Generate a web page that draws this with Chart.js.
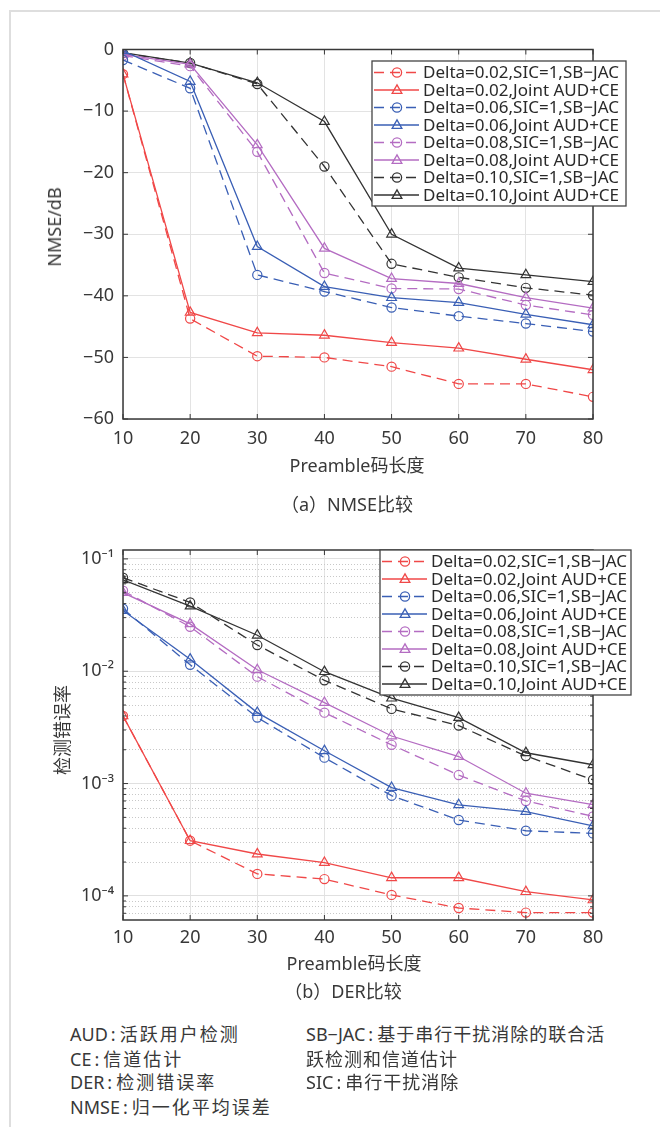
<!DOCTYPE html>
<html>
<head>
<meta charset="utf-8">
<script src="https://cdn.jsdelivr.net/npm/chart.js@4/dist/chart.umd.min.js"></script>
<style>
  body { margin: 0; background: #fff; width: 660px; height: 1127px; position: relative; overflow: hidden;
         font-family: "Noto Sans", "Noto Sans CJK SC", sans-serif; color: #383838; }
  #frame { position: absolute; left: 9px; top: 10px; right: -5px; bottom: -5px;
           border-top: 2px solid #dedede; border-left: 2px solid #dedede; }
  canvas { position: absolute; left: 0; }
  .t { position: absolute; font-size: 18px; white-space: nowrap; transform: translate(-50%, -50%); }
  .rot { transform: translate(-50%, -50%) rotate(-90deg); }
  .cjk { font-family: "Noto Sans CJK SC", sans-serif; }
  .note { position: absolute; font-size: 18px; white-space: nowrap; transform: translateY(-50%); }
  .note .c { margin: 0 4px 0 3px; }
  .wide { letter-spacing: 2px; }
  .mid { letter-spacing: 1px; }
</style>
</head>
<body>
<div id="frame"></div>
<canvas id="nmseChart" width="660" height="480" style="top:0"></canvas>
<canvas id="derChart" width="660" height="480" style="top:500px"></canvas>

<div class="t rot" style="left:54px; top:227px">NMSE/dB</div>
<div class="t" style="left:357px; top:464px">Preamble<span class="cjk">码长度</span></div>
<div class="t" style="left:347px; top:503px"><span class="cjk">（</span>a<span class="cjk">）</span>NMSE<span class="cjk">比较</span></div>

<div class="t rot cjk" style="left:61px; top:730px">检测错误率</div>
<div class="t" style="left:354px; top:962px">Preamble<span class="cjk">码长度</span></div>
<div class="t" style="left:343px; top:990px"><span class="cjk">（</span>b<span class="cjk">）</span>DER<span class="cjk">比较</span></div>

<div class="note" style="left:70px; top:1033px">AUD<span class="c">:</span><span class="cjk wide">活跃用户检测</span></div>
<div class="note" style="left:70px; top:1058px">CE<span class="c">:</span><span class="cjk wide">信道估计</span></div>
<div class="note" style="left:70px; top:1081px">DER<span class="c">:</span><span class="cjk wide">检测错误率</span></div>
<div class="note" style="left:70px; top:1106px">NMSE<span class="c">:</span><span class="cjk wide">归一化平均误差</span></div>
<div class="note" style="left:306px; top:1033px">SB−JAC<span class="c">:</span><span class="cjk mid">基于串行干扰消除的联合活</span></div>
<div class="note cjk mid" style="left:306px; top:1058px">跃检测和信道估计</div>
<div class="note" style="left:306px; top:1081px">SIC<span class="c">:</span><span class="cjk mid">串行干扰消除</span></div>

<script>
// 横轴：Preamble 码长度
const preambleLengths = [10, 20, 30, 40, 50, 60, 70, 80];

// (a) NMSE / dB
const nmseSic002   = [-4.0, -43.7, -49.8, -50.0, -51.5, -54.3, -54.3, -56.4];
const nmseJoint002 = [-4.0, -42.7, -46.0, -46.4, -47.6, -48.5, -50.3, -52.0];
const nmseSic006   = [-1.7, -6.3, -36.6, -39.3, -41.9, -43.3, -44.5, -45.8];
const nmseJoint006 = [-0.2, -5.2, -32.0, -38.5, -40.3, -41.1, -43.0, -44.7];
const nmseSic008   = [-1.0, -2.7, -16.6, -36.3, -38.8, -38.9, -41.5, -43.1];
const nmseJoint008 = [-0.8, -2.4, -15.5, -32.3, -37.2, -38.0, -40.3, -42.0];
const nmseSic010   = [-0.6, -2.2, -5.6, -19.0, -34.8, -37.0, -38.7, -39.9];
const nmseJoint010 = [-0.5, -2.2, -5.4, -11.7, -30.0, -35.5, -36.6, -37.7];

// (b) DER 检测错误率
const derSic002   = [4.0e-3, 3.1e-4, 1.57e-4, 1.41e-4, 1.02e-4, 7.8e-5, 7.1e-5, 7.1e-5];
const derJoint002 = [4.0e-3, 3.1e-4, 2.36e-4, 1.98e-4, 1.45e-4, 1.45e-4, 1.09e-4, 9.2e-5];
const derSic006   = [3.6e-2, 1.14e-2, 3.87e-3, 1.70e-3, 7.8e-4, 4.74e-4, 3.8e-4, 3.6e-4];
const derJoint006 = [3.47e-2, 1.28e-2, 4.28e-3, 1.96e-3, 9.2e-4, 6.46e-4, 5.62e-4, 4.2e-4];
const derSic008   = [5.2e-2, 2.49e-2, 8.95e-3, 4.28e-3, 2.21e-3, 1.19e-3, 7.0e-4, 5.1e-4];
const derJoint008 = [5.0e-2, 2.64e-2, 1.03e-2, 5.26e-3, 2.65e-3, 1.74e-3, 8.2e-4, 6.5e-4];
const derSic010   = [6.8e-2, 4.1e-2, 1.71e-2, 8.3e-3, 4.62e-3, 3.28e-3, 1.76e-3, 1.08e-3];
const derJoint010 = [6.5e-2, 3.8e-2, 2.09e-2, 9.9e-3, 5.75e-3, 3.86e-3, 1.88e-3, 1.47e-3];

// 刻度
const xTicks = [10, 20, 30, 40, 50, 60, 70, 80];
const nmseTicks = [0, -10, -20, -30, -40, -50, -60];
const derDecades = [1e-4, 1e-3, 1e-2, 1e-1];
const derDecadeLabels = ['10⁻⁴', '10⁻³', '10⁻²', '10⁻¹'];

const seriesLabels = [
  'Delta=0.02,SIC=1,SB−JAC', 'Delta=0.02,Joint AUD+CE',
  'Delta=0.06,SIC=1,SB−JAC', 'Delta=0.06,Joint AUD+CE',
  'Delta=0.08,SIC=1,SB−JAC', 'Delta=0.08,Joint AUD+CE',
  'Delta=0.10,SIC=1,SB−JAC', 'Delta=0.10,Joint AUD+CE'
];
const seriesColors = ['#f04848', '#f04848', '#3a5fb5', '#3a5fb5', '#b46cc2', '#b46cc2', '#333333', '#333333'];

function buildDatasets(seriesList) {
  return seriesList.map((vals, i) => {
    const dashed = i % 2 === 0;
    return {
      label: seriesLabels[i],
      data: preambleLengths.map((x, k) => ({ x, y: vals[k] })),
      borderColor: seriesColors[i],
      borderWidth: 1.3,
      borderDash: dashed ? [10, 6] : [],
      pointStyle: dashed ? 'circle' : 'triangle',
      pointRadius: dashed ? 4.6 : 5.6,
      pointHoverRadius: dashed ? 4.6 : 5.6,
      pointBorderColor: seriesColors[i],
      pointBorderWidth: 1.2,
      pointBackgroundColor: 'rgba(0,0,0,0)',
      fill: false,
      tension: 0
    };
  });
}

function drawMarker(ctx, style, x, y, r) {
  ctx.beginPath();
  if (style === 'circle') {
    ctx.arc(x, y, r, 0, Math.PI * 2);
  } else {
    for (let k = 0; k < 3; k++) {
      const a = k * 2 * Math.PI / 3;
      const px = x + Math.sin(a) * r, py = y - Math.cos(a) * r;
      k === 0 ? ctx.moveTo(px, py) : ctx.lineTo(px, py);
    }
    ctx.closePath();
  }
  ctx.stroke();
}

// 坐标框、内向刻度线和图例
const boxPlugin = {
  id: 'box',
  afterDraw(chart, args, opts) {
    const { ctx, chartArea: a, scales } = chart;
    ctx.save();
    ctx.strokeStyle = '#383838';
    ctx.lineWidth = 1;
    ctx.beginPath();
    scales.x.ticks.forEach(t => {
      const px = scales.x.getPixelForValue(t.value);
      ctx.moveTo(px, a.bottom); ctx.lineTo(px, a.bottom - 5);
      ctx.moveTo(px, a.top); ctx.lineTo(px, a.top + 5);
    });
    scales.y.ticks.forEach(t => {
      const py = scales.y.getPixelForValue(t.value);
      const len = opts.isMajor(t.value) ? 5 : 3;
      ctx.moveTo(a.left, py); ctx.lineTo(a.left + len, py);
      ctx.moveTo(a.right, py); ctx.lineTo(a.right - len, py);
    });
    ctx.stroke();
    ctx.lineWidth = 1.5;
    ctx.strokeRect(a.left, a.top, a.right - a.left, a.bottom - a.top);

    // 图例
    const lx = a.right - opts.legendFromRight, ly = a.top + opts.legendTop;
    const lw = opts.legendW, lh = opts.legendH;
    ctx.fillStyle = '#fff';
    ctx.fillRect(lx, ly, lw, lh);
    ctx.lineWidth = 1.3;
    ctx.strokeStyle = '#444';
    ctx.strokeRect(lx, ly, lw, lh);
    ctx.font = '17px "Noto Sans"';
    ctx.textBaseline = 'middle';
    chart.data.datasets.forEach((ds, i) => {
      const y = ly + 11.5 + i * 17.5;
      ctx.strokeStyle = ds.borderColor;
      ctx.lineWidth = 1.3;
      ctx.setLineDash(ds.borderDash);
      ctx.beginPath();
      ctx.moveTo(lx + 2, y); ctx.lineTo(lx + 47, y);
      ctx.stroke();
      ctx.setLineDash([]);
      drawMarker(ctx, ds.pointStyle, lx + 25, y + (ds.pointStyle === 'triangle' ? 0.5 : 0), ds.pointStyle === 'circle' ? 4.6 : 5.6);
      ctx.fillStyle = '#2a2a2a';
      ctx.fillText(ds.label, lx + 51, y + 1);
    });
    ctx.restore();
  }
};

const tickFont = { family: 'Noto Sans', size: 18 };

// (a) NMSE 图
new Chart(document.getElementById('nmseChart'), {
  type: 'line',
  data: { datasets: buildDatasets([nmseSic002, nmseJoint002, nmseSic006, nmseJoint006,
                                   nmseSic008, nmseJoint008, nmseSic010, nmseJoint010]) },
  options: {
    responsive: false,
    animation: false,
    devicePixelRatio: 1,
    layout: { padding: { left: 0, right: 67, top: 49.5, bottom: 0 } },
    plugins: {
      legend: { display: false },
      tooltip: { enabled: false },
      box: { legendFromRight: 221, legendTop: 11.5, legendW: 254, legendH: 145, isMajor: () => true }
    },
    scales: {
      x: {
        type: 'linear', min: 10, max: 80,
        afterBuildTicks: s => { s.ticks = xTicks.map(v => ({ value: v })); },
        afterFit: s => { s.height = 61; },
        ticks: { font: tickFont, color: '#383838', padding: 9, autoSkip: false, maxRotation: 0 },
        grid: { color: '#e3e3e3', drawTicks: false },
        border: { display: false }
      },
      y: {
        type: 'linear', min: -60, max: 0,
        afterBuildTicks: s => { s.ticks = nmseTicks.map(v => ({ value: v })); },
        afterFit: s => { s.width = 123; },
        ticks: { font: tickFont, color: '#383838', padding: 9, callback: v => String(v).replace('-', '−') },
        grid: { color: '#e3e3e3', drawTicks: false },
        border: { display: false }
      }
    }
  },
  plugins: [boxPlugin]
});

// (b) DER 图
const isDecade = v => derDecades.some(d => Math.abs(v / d - 1) < 1e-6);
const derTickValues = [];
[1e-5, 1e-4, 1e-3, 1e-2].forEach(d => {
  for (let m = 1; m <= 9; m++) derTickValues.push(m * d);
});
derTickValues.push(1e-1);

new Chart(document.getElementById('derChart'), {
  type: 'line',
  data: { datasets: buildDatasets([derSic002, derJoint002, derSic006, derJoint006,
                                   derSic008, derJoint008, derSic010, derJoint010]) },
  options: {
    responsive: false,
    animation: false,
    devicePixelRatio: 1,
    layout: { padding: { left: 0, right: 67, top: 50, bottom: 0 } },
    plugins: {
      legend: { display: false },
      tooltip: { enabled: false },
      box: { legendFromRight: 213, legendTop: 0, legendW: 251, legendH: 145, isMajor: isDecade }
    },
    scales: {
      x: {
        type: 'linear', min: 10, max: 80,
        afterBuildTicks: s => { s.ticks = xTicks.map(v => ({ value: v })); },
        afterFit: s => { s.height = 60; },
        ticks: { font: tickFont, color: '#383838', padding: 7, autoSkip: false, maxRotation: 0 },
        grid: { color: '#e3e3e3', drawTicks: false },
        border: { display: false }
      },
      y: {
        type: 'logarithmic', min: 6.1e-5, max: 0.12,
        afterBuildTicks: s => {
          s.ticks = derTickValues.filter(v => v >= 6.1e-5 && v <= 0.12).map(v => ({ value: v }));
        },
        afterFit: s => { s.width = 123; },
        ticks: {
          font: tickFont, color: '#383838', padding: 9, autoSkip: false,
          callback: v => {
            const k = derDecades.findIndex(d => Math.abs(v / d - 1) < 1e-6);
            return k >= 0 ? derDecadeLabels[k] : '';
          }
        },
        grid: {
          drawTicks: false,
          color: ctx => (ctx.tick && !isDecade(ctx.tick.value)) ? '#c8c8c8' : '#e0e0e0'
        },
        border: {
          display: false,
          dash: ctx => (ctx.tick && !isDecade(ctx.tick.value)) ? [1, 2] : []
        }
      }
    }
  },
  plugins: [boxPlugin]
});
</script>
</body>
</html>
